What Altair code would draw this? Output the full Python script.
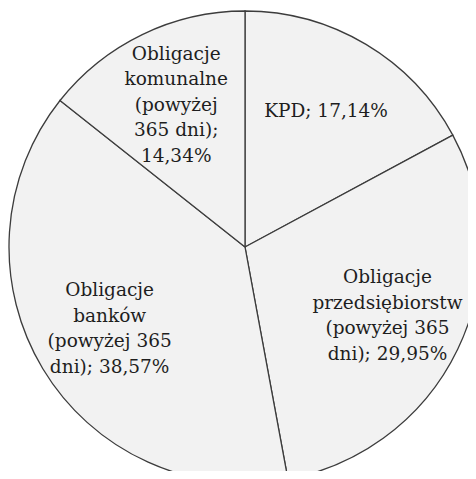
import altair as alt
import pandas as pd

categories = [
    "KPD",
    "Obligacje\nprzedsiębiorstw\n(powyżej 365\ndni)",
    "Obligacje\nbanków\n(powyżej 365\ndni)",
    "Obligacje\nkomunalne\n(powyżej\n365 dni)",
]
values = [17.14, 29.95, 38.57, 14.34]

labels = []
for c, v in zip(categories, values):
    pct = f"{v:.2f}".replace(".", ",") + "%"
    if c.startswith("Obligacje\nkomunalne"):
        labels.append(c + ";\n" + pct)
    else:
        labels.append(c + "; " + pct)

LH = 25.5
df = pd.DataFrame({"cat": categories, "value": values, "label": labels,
                   "order": list(range(len(values)))})
df["shift"] = [-(l.count("\n")) * LH / 2 for l in labels]
total = sum(values)

cx, cy = 237, 239

pie = alt.Chart(df).mark_arc(outerRadius=236, fill="#f2f2f2", stroke="#3c3c3c",
                             strokeWidth=1.3).encode(
    theta=alt.Theta("value:Q", stack=True),
    order=alt.Order("order:Q"),
    x=alt.value(cx), y=alt.value(cy))

text = alt.Chart(df).transform_window(
    cum="sum(value)", sort=[alt.SortField("order")]
).transform_calculate(
    mid="datum.cum - datum.value / 2"
).mark_text(radius=158, font="DejaVu Serif",
            fontSize=18.5, lineBreak="\n", lineHeight=LH,
            color="#1e1e1e", align="center", baseline="middle").encode(
    theta=alt.Theta("mid:Q", stack=None, scale=alt.Scale(domain=[0, total])),
    text="label:N", x=alt.value(cx), y=alt.value(cy),
    yOffset=alt.YOffset("shift:Q", scale=None))

chart = alt.layer(pie, text).resolve_scale(theta="independent").properties(
    width=460, height=463, autosize="none", padding=0,
    background="white"
).configure_view(stroke=None)

chart.save("out.html", embed_options={"renderer": "svg", "actions": False})
